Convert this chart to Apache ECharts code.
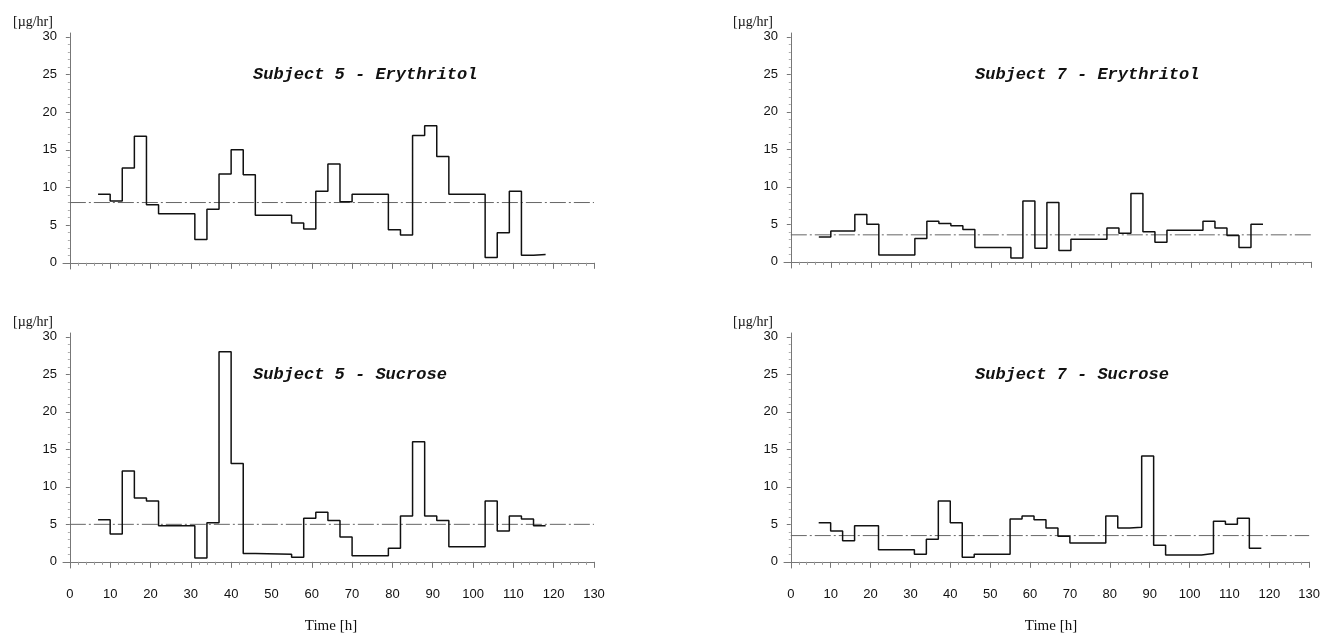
<!DOCTYPE html>
<html>
<head>
<meta charset="utf-8">
<script src="https://cdn.jsdelivr.net/npm/echarts@6/dist/echarts.min.js"></script>
<style>
  html, body { margin: 0; padding: 0; background: #fff; }
  #chart { width: 1323px; height: 635px; }
</style>
</head>
<body>
<div id="chart"></div>
<script>
// ---- Data ----
// Interval boundaries [h]; each value applies from times[i] to times[i+1]
const timesS5E = [7,10,13,16,19,22,31,34,37,40,43,46,55,58,61,64,67,70,79,82,85,88,91,94,103,106,109,112,115,118];
const valsS5E  = [9.1,8.2,12.6,16.8,7.7,6.5,3.1,7.1,11.8,15.0,11.7,6.3,5.3,4.5,9.5,13.1,8.1,9.1,4.4,3.7,16.9,18.2,14.1,9.1,0.7,4.0,9.5,1.0,1.1];

const timesS7E = [7,10,16,19,22,31,34,37,40,43,46,55,58,61,64,67,70,79,82,85,88,91,94,103,106,109,112,115,118];
const valsS7E  = [3.3,4.1,6.3,5.0,0.9,3.1,5.4,5.1,4.8,4.3,1.9,0.5,8.1,1.8,7.9,1.5,3.0,4.5,3.8,9.1,4.0,2.6,4.2,5.4,4.5,3.5,1.9,5.0];

const timesS5S = [7,10,13,16,19,22,31,34,37,40,43,46,55,58,61,64,67,70,79,82,85,88,91,94,103,106,109,112,115,118];
const valsS5S  = [5.6,3.7,12.1,8.5,8.1,4.8,0.5,5.2,28.0,13.1,1.1,1.0,0.6,5.8,6.6,5.5,3.3,0.8,1.8,6.1,16.0,6.1,5.5,2.0,8.1,4.1,6.1,5.7,4.8];

const timesS7S = [7,10,13,16,22,31,34,37,40,43,46,55,58,61,64,67,70,79,82,85,88,91,94,103,106,109,112,115,118];
const valsS7S  = [5.2,4.1,2.8,4.8,1.6,1.0,3.0,8.1,5.2,0.6,1.0,5.7,6.1,5.6,4.5,3.4,2.5,6.1,4.5,4.6,14.1,2.2,0.9,1.1,5.4,5.0,5.8,1.8];

// Mean (reference) levels per panel
const meanLevels = [8.0, 3.6, 5.0, 3.5];
const meanSpan = [0, 130];

const panelTitles = ['Subject 5 - Erythritol', 'Subject 7 - Erythritol', 'Subject 5 - Sucrose', 'Subject 7 - Sucrose'];
const xTickLabels = [0,10,20,30,40,50,60,70,80,90,100,110,120,130];
const xMinorTicks = [2,4,6,8,12,14,16,18,22,24,26,28,32,34,36,38,42,44,46,48,52,54,56,58,62,64,66,68,72,74,76,78,82,84,86,88,92,94,96,98,102,104,106,108,112,114,116,118,122,124,126,128];
const yTickLabels = [0,5,10,15,20,25,30];
const yMinorTicks = [1,2,3,4,6,7,8,9,11,12,13,14,16,17,18,19,21,22,23,24,26,27,28,29];
const unitLabel = '[µg/hr]';
const xAxisTitle = 'Time [h]';

// ---- Layout ----
const grids = [
  {left: 63,  top: 33,  width: 531, height: 236},
  {left: 784, top: 33,  width: 527, height: 235},
  {left: 63,  top: 333, width: 531, height: 235},
  {left: 784, top: 333, width: 527, height: 235}
];
const showXLabels = [false, false, true, true];
const panels = [
  {t: timesS5E, v: valsS5E},
  {t: timesS7E, v: valsS7E},
  {t: timesS5S, v: valsS5S},
  {t: timesS7S, v: valsS7S}
];

const XMIN = -1.7, XMAX = 130, YMIN = -0.82, YMAX = 30.5;
const axisColor = '#777';
const labelFont = 'Liberation Sans';

const xAxes = [], yAxes = [], series = [];
grids.forEach((g, i) => {
  // main x axis
  xAxes.push({
    type: 'value', gridIndex: i, min: XMIN, max: XMAX, position: 'bottom',
    axisLine: {show: true, lineStyle: {color: axisColor, width: 1}},
    axisTick: {show: true, length: 6, customValues: xTickLabels, lineStyle: {color: axisColor}},
    axisLabel: {show: showXLabels[i], customValues: xTickLabels, margin: 20,
      fontFamily: labelFont, fontSize: 13, color: '#111'},
    splitLine: {show: false}
  });
  // minor-tick x axis
  xAxes.push({
    type: 'value', gridIndex: i, min: XMIN, max: XMAX, position: 'bottom',
    axisLine: {show: false},
    axisTick: {show: true, length: 3, customValues: xMinorTicks, lineStyle: {color: '#999'}},
    axisLabel: {show: false},
    splitLine: {show: false}
  });
  yAxes.push({
    type: 'value', gridIndex: i, min: YMIN, max: YMAX, position: 'left',
    axisLine: {show: true, lineStyle: {color: axisColor, width: 1}},
    axisTick: {show: true, length: 4, customValues: yTickLabels, lineStyle: {color: axisColor}},
    axisLabel: {show: true, customValues: yTickLabels, margin: 6,
      fontFamily: labelFont, fontSize: 13, color: '#111'},
    splitLine: {show: false}
  });
  yAxes.push({
    type: 'value', gridIndex: i, min: YMIN, max: YMAX, position: 'left',
    axisLine: {show: false},
    axisTick: {show: true, length: 2, customValues: yMinorTicks, lineStyle: {color: '#aaa'}},
    axisLabel: {show: false},
    splitLine: {show: false}
  });

  const p = panels[i];
  const stepData = p.t.map((t, k) => [t, p.v[Math.min(k, p.v.length - 1)]]);
  series.push({
    type: 'line', xAxisIndex: 2 * i, yAxisIndex: 2 * i,
    step: 'end', data: stepData, showSymbol: false, symbol: 'none',
    lineStyle: {color: '#111', width: 1.5}, z: 3, silent: true, animation: false
  });
  series.push({
    type: 'line', xAxisIndex: 2 * i, yAxisIndex: 2 * i,
    data: [[meanSpan[0], meanLevels[i]], [meanSpan[1], meanLevels[i]]],
    showSymbol: false, symbol: 'none',
    lineStyle: {color: '#666', width: 1, type: [16, 3, 2, 3]}, z: 2, silent: true, animation: false
  });
});

// ---- Free text ----
const titlePos = [[253, 75], [975, 75], [253, 375], [975, 375]];
const unitPos = [[13, 22], [733, 22], [13, 322], [733, 322]];
const timePos = [[331, 626], [1051, 626]];
const graphics = [];
panelTitles.forEach((txt, i) => {
  graphics.push({type: 'text', x: titlePos[i][0], y: titlePos[i][1],
    style: {text: txt, font: 'italic bold 17px "Liberation Mono", "DejaVu Sans Mono", monospace',
      fill: '#111', align: 'left', verticalAlign: 'middle'}});
});
unitPos.forEach(pos => {
  graphics.push({type: 'text', x: pos[0], y: pos[1],
    style: {text: unitLabel, font: '14px "Liberation Serif", "DejaVu Serif", serif',
      fill: '#111', align: 'left', verticalAlign: 'middle'}});
});
timePos.forEach(pos => {
  graphics.push({type: 'text', x: pos[0], y: pos[1],
    style: {text: xAxisTitle, font: '15px "Liberation Serif", "DejaVu Serif", serif',
      fill: '#111', align: 'center', verticalAlign: 'middle'}});
});

const chart = echarts.init(document.getElementById('chart'), null, {renderer: 'canvas'});
chart.setOption({
  animation: false,
  backgroundColor: '#fff',
  grid: grids,
  xAxis: xAxes,
  yAxis: yAxes,
  series: series,
  graphic: graphics
});
</script>
</body>
</html>
